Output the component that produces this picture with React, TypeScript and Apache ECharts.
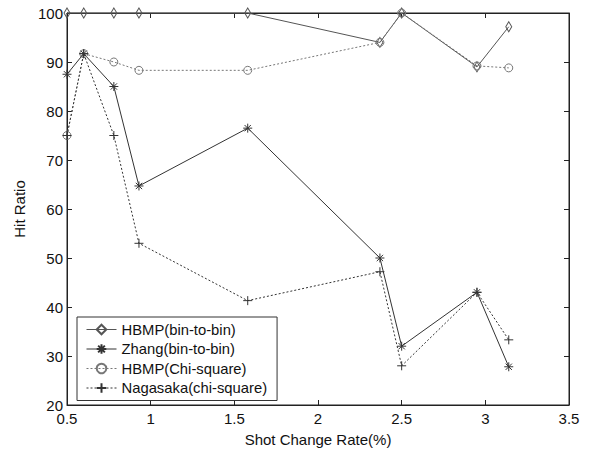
import React, { useEffect, useRef } from 'react';
import * as echarts from 'echarts';

const rates = [0.5, 0.6, 0.78, 0.93, 1.58, 2.37, 2.5, 2.95, 3.14];
const hbmpBin = [100, 100, 100, 100, 100, 94, 100, 89, 97.2];
const zhangBin = [87.5, 91.7, 85, 64.7, 76.5, 50, 32, 43, 27.8];
const hbmpChi = [75, 91.7, 90, 88.3, 88.3, 94, 100, 89.2, 88.8];
const nagasakaChi = [75, 91.7, 75, 53, 41.3, 47.2, 28, 43, 33.3];

const seriesNames = ['HBMP(bin-to-bin)', 'Zhang(bin-to-bin)', 'HBMP(Chi-square)', 'Nagasaka(chi-square)'];

const FONT = '"Liberation Sans", Arial, sans-serif';
const PLUS = 'path://M0,5 L10,5 M5,0 L5,10';
const STAR = 'path://M0,5 L10,5 M5,0 L5,10 M1.5,1.5 L8.5,8.5 M1.5,8.5 L8.5,1.5';

const pairs = (ys: number[]) => rates.map((x, i) => [x, ys[i]]);

export default function App() {
  const ref = useRef<HTMLDivElement>(null);
  useEffect(() => {
    if (!ref.current) return;
    const chart = echarts.init(ref.current, undefined, { renderer: 'svg' });
    const axisLine = { show: true, lineStyle: { color: '#222', width: 1 } };
    const tick = { show: true, inside: true, length: 5, lineStyle: { color: '#222' } };
    const label = { color: '#111', fontSize: 15, fontFamily: FONT };
    const mk = (name: string, ys: number[], symbol: string, size: any, color: string, type: any, z: number) => ({
      name,
      type: 'line',
      data: pairs(ys),
      symbol,
      symbolSize: size,
      showSymbol: true,
      z,
      lineStyle: { color, width: 1, type },
      itemStyle: { color: 'transparent', borderColor: color, borderWidth: 1 },
    });
    chart.setOption({
      animation: false,
      backgroundColor: '#fff',
      grid: { left: 67, right: 20, top: 13, bottom: 43, show: true, borderColor: '#222', borderWidth: 1 },
      legend: {
        orient: 'vertical',
        left: 77,
        top: 317,
        width: 195,
        padding: [5, 10, 5, 9],
        itemWidth: 30,
        itemHeight: 12,
        itemGap: 4.5,
        backgroundColor: '#fff',
        borderColor: '#333',
        borderWidth: 1,
        lineStyle: { width: 1 },
        textStyle: { fontSize: 14.8, fontFamily: FONT, color: '#111' },
        data: seriesNames,
      },
      xAxis: [
        {
          type: 'value', min: 0.5, max: 3.5, interval: 0.5,
          name: 'Shot Change Rate(%)', nameLocation: 'middle', nameGap: 27,
          nameTextStyle: { fontSize: 15, fontFamily: FONT, color: '#111' },
          axisLine, axisTick: tick, axisLabel: { ...label, margin: 6 }, splitLine: { show: false },
        },
        {
          type: 'value', min: 0.5, max: 3.5, interval: 0.5, position: 'top',
          axisLine, axisTick: tick, axisLabel: { show: false }, splitLine: { show: false },
        },
      ],
      yAxis: [
        {
          type: 'value', min: 20, max: 100, interval: 10,
          name: 'Hit Ratio', nameLocation: 'middle', nameGap: 36,
          nameTextStyle: { fontSize: 15, fontFamily: FONT, color: '#111' },
          axisLine, axisTick: tick, axisLabel: { ...label, margin: 4 }, splitLine: { show: false },
        },
        {
          type: 'value', min: 20, max: 100, interval: 10, position: 'right',
          axisLine, axisTick: tick, axisLabel: { show: false }, splitLine: { show: false },
        },
      ],
      series: [
        mk(seriesNames[0], hbmpBin, 'diamond', [6, 10], '#555', 'solid', 2),
        mk(seriesNames[1], zhangBin, STAR, 9, '#333', 'solid', 3),
        mk(seriesNames[2], hbmpChi, 'circle', 8, '#777', [2, 2], 4),
        mk(seriesNames[3], nagasakaChi, PLUS, 9, '#333', [2, 2], 5),
      ],
    });
    return () => chart.dispose();
  }, []);
  return <div ref={ref} style={{ position: 'fixed', left: 0, top: 0, width: 589, height: 452 }} />;
}
